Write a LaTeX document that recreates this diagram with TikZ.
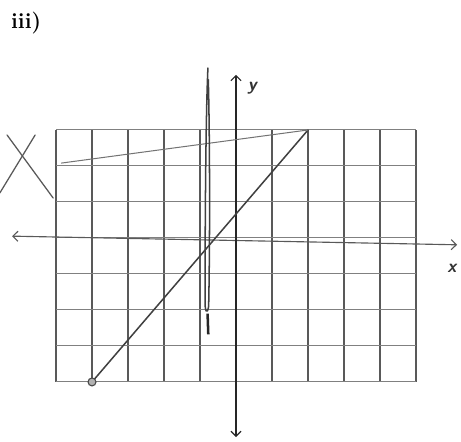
\documentclass[tikz,border=0pt]{standalone}
\usepackage{tikz}
\usetikzlibrary{arrows.meta, positioning}

\begin{document}
\begin{tikzpicture}[x=1cm, y=1cm,
		gridline/.style={black!65, line width=0.9pt},
		axisline/.style={black!85, line width=0.9pt, {Straight Barb[length=4pt,width=8pt]}-{Straight Barb[length=4pt,width=8pt]}},
		pencil/.style={black!65, line width=1pt, line cap=round},
		handlabel/.style={font=\Large\sffamily\bfseries\itshape, text=black!80, inner sep=0pt}]
	\useasboundingbox (-6.556,-5.667) rectangle (6.25,6.61);
	\node[font=\LARGE\bfseries, text=black] (part) at (-5.83,5.97) {iii)};
	% grid
	\foreach \i in {-5,...,5}
		\draw[gridline] (\i,-4) -- (\i,3);
	\foreach \j in {-4,...,3}
		\draw[gridline, black!50, line width=0.8pt] (-5,\j) -- (5,\j);
	% axes
	\coordinate (xleft) at (-6.22,0.05);
	\coordinate (xright) at (6.14,-0.19);
	\coordinate (ytop) at (0,4.53);
	\coordinate (ybot) at (0,-5.53);
	\draw[axisline, black!65] (xleft) -- (xright);
	\draw[axisline] (ybot) -- (ytop);
	\node[handlabel] (ylab) at (0.45,4.15) {y};
	\node[handlabel] (xlab) at (6.0,-0.83) {x};
	% the line
	\coordinate (start) at (-4,-4);
	\coordinate (top) at (2,3);
	\coordinate (lend) at (-4.85,2.08);
	\draw[pencil, black!75, line width=1.2pt] (start) -- (top);
	\draw[pencil, black!55, line width=0.8pt] (top) -- (lend);
	\filldraw[fill=gray!60, draw=black!70, line width=0.9pt] (start) circle (0.11);
	% scribble
	\draw[pencil, black!75, line width=1.2pt] (-0.78,4.72) .. controls (-0.86,3) and (-0.86,-1.4) .. (-0.86,-1.7)
		.. controls (-0.87,-2.05) and (-0.8,-2.15) .. (-0.76,-1.9)
		.. controls (-0.72,0) and (-0.73,3) .. (-0.77,4.4);
	\draw[black!85, line width=2pt] (-0.79,-2.1) -- (-0.77,-2.68);
	% cross-out
	\draw[pencil] (-6.36,2.86) -- (-5.08,1.11);
	\draw[pencil] (-5.58,2.86) -- (-6.56,1.25);
\end{tikzpicture}
\end{document}
